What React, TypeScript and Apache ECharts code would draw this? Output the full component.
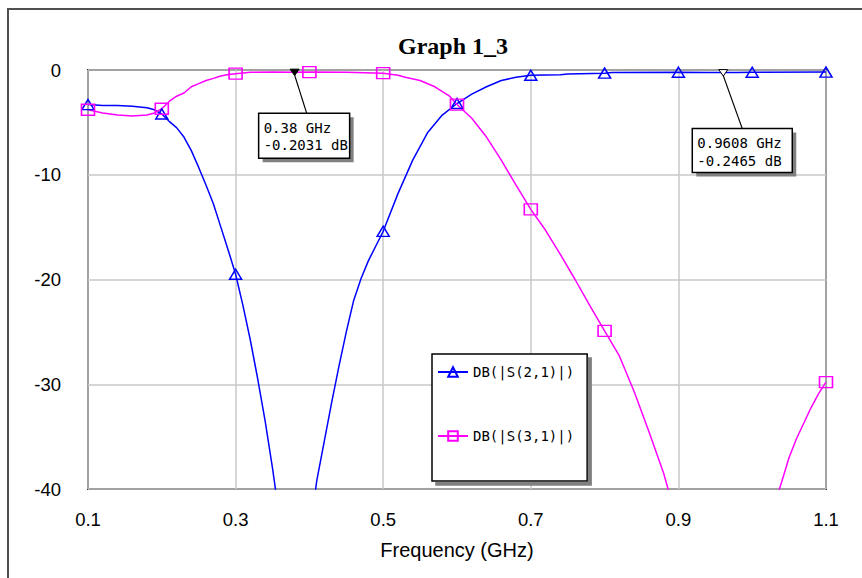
import React, { useEffect, useRef } from "react";
import * as echarts from "echarts";

const chartTitle = "Graph 1_3";
const xAxisName = "Frequency (GHz)";
const seriesNames = ["DB(|S(2,1)|)", "DB(|S(3,1)|)"];
const seriesColors = ["#0000ff", "#ff00ff"];

// DB(|S(2,1)|)
const s21Freq = [
  0.1, 0.12, 0.14, 0.16, 0.18, 0.19, 0.2, 0.21, 0.22, 0.23, 0.24, 0.25, 0.26, 0.27, 0.28, 0.29,
  0.3, 0.31, 0.32, 0.33, 0.34, 0.35, 0.36, 0.37, 0.38, 0.39, 0.4, 0.41, 0.42, 0.43, 0.44, 0.45,
  0.46, 0.47, 0.48, 0.49, 0.5, 0.52, 0.54, 0.56, 0.58, 0.6, 0.62, 0.64, 0.66, 0.68, 0.7, 0.74,
  0.75, 0.8, 0.81, 0.9, 0.94, 0.9608, 0.98, 1.0, 1.1,
];
const s21Db = [
  -3.3, -3.4, -3.4, -3.45, -3.6, -3.8, -4.2, -4.9, -5.5, -6.4, -7.7, -9.3, -11.0, -12.8, -15.0, -17.2,
  -19.5, -22.5, -25.8, -29.5, -33.5, -38.0, -43, -50, -62, -52, -44.5, -39.2, -35.5, -31.8, -28.3, -25.0,
  -22.0, -19.9, -18.2, -16.8, -15.4, -11.8, -8.6, -6.0, -4.3, -3.2, -2.3, -1.6, -1.0, -0.7, -0.5, -0.45,
  -0.38, -0.3, -0.25, -0.22, -0.23, -0.2465, -0.23, -0.22, -0.2,
];

// DB(|S(3,1)|)
const s31Freq = [
  0.1, 0.12, 0.14, 0.16, 0.18, 0.19, 0.2, 0.21, 0.22, 0.23, 0.24, 0.25, 0.26, 0.27, 0.28, 0.29,
  0.3, 0.32, 0.35, 0.38, 0.4, 0.45, 0.5, 0.52, 0.53, 0.55, 0.57, 0.59, 0.6, 0.62, 0.64, 0.66,
  0.68, 0.7, 0.72, 0.74, 0.76, 0.78, 0.8, 0.82, 0.84, 0.86, 0.88, 0.89, 0.92, 0.96, 1.0, 1.03,
  1.04, 1.05, 1.06, 1.07, 1.08, 1.09, 1.1,
];
const s31Db = [
  -3.8, -4.1, -4.3, -4.4, -4.3, -4.1, -3.7, -3.0, -2.5, -2.2, -1.6, -1.3, -1.0, -0.8, -0.57, -0.42,
  -0.35, -0.22, -0.18, -0.2031, -0.2, -0.22, -0.3, -0.5, -0.7, -1.0, -1.6, -2.5, -3.3, -4.6, -6.4, -8.6,
  -11.0, -13.3, -15.3, -17.6, -20.0, -22.5, -24.9, -27.3, -30.7, -34.5, -38.5, -41, -48, -62, -50, -41.5,
  -39.3, -37.0, -35.2, -33.7, -32.2, -30.9, -29.8,
];

// marker annotations
const markerFreq = [0.38, 0.9608];
const markerDb = [-0.2031, -0.2465];
const markerLines = [
  ["0.38 GHz", "-0.2031 dB"],
  ["0.9608 GHz", "-0.2465 dB"],
];
const markerFilled = [true, false];

// annotation box layout (offsets from the marker point)
const boxDx = [-36, -31];
const boxDy = [41, 56];
const boxW = [91, 100];
const boxH = [45, 44];
const leaderDx = [12, 19];

const isMarkerPoint = (f: number) => Math.abs(f * 10 - Math.round(f * 10)) < 1e-6;

const buildData = (freq: number[], db: number[]) =>
  freq.map((f, i) => (isMarkerPoint(f) ? [f, db[i]] : { value: [f, db[i]], symbol: "none" }));

export default function App() {
  const ref = useRef<HTMLDivElement>(null);

  useEffect(() => {
    if (!ref.current) return;
    const chart = echarts.init(ref.current, null, { renderer: "svg" });
    const sans = "'Liberation Sans', Arial, sans-serif";
    const mono = "'DejaVu Sans Mono', monospace";
    chart.setOption({
      animation: false,
      backgroundColor: "#ffffff",
      title: {
        text: chartTitle,
        left: 393,
        top: 29,
        textStyle: {
          fontFamily: "'Liberation Serif', 'Times New Roman', serif",
          fontWeight: "bold",
          fontSize: 24,
          color: "#000",
        },
      },
      grid: {
        left: 88,
        right: 36,
        top: 70,
        bottom: 89,
        show: true,
        borderColor: "#333",
        borderWidth: 2,
        backgroundColor: "transparent",
      },
      legend: {
        orient: "vertical",
        left: 432,
        top: 354,
        itemWidth: 30,
        itemHeight: 12,
        itemGap: 50,
        padding: [11, 13, 38, 5],
        backgroundColor: "#fff",
        borderColor: "#000",
        borderWidth: 1.5,
        shadowColor: "#808080",
        shadowOffsetX: 4,
        shadowOffsetY: 4,
        shadowBlur: 0,
        textStyle: { fontFamily: mono, fontSize: 14, color: "#000" },
        data: seriesNames,
      },
      xAxis: {
        type: "value",
        min: 0.1,
        max: 1.1,
        interval: 0.2,
        name: xAxisName,
        nameLocation: "middle",
        nameGap: 51,
        nameTextStyle: { fontFamily: sans, fontSize: 20, color: "#000" },
        axisLine: { show: false },
        axisTick: { show: false },
        axisLabel: {
          fontFamily: sans,
          fontSize: 18.5,
          color: "#000",
          margin: 21,
          formatter: (v: number) => v.toFixed(1),
        },
        splitLine: { show: true, lineStyle: { color: "#c8c8c8", width: 1.5 } },
      },
      yAxis: {
        type: "value",
        min: -40,
        max: 0,
        interval: 10,
        axisLine: { show: false },
        axisTick: { show: false },
        axisLabel: { fontFamily: sans, fontSize: 18.5, color: "#000", margin: 27 },
        splitLine: { show: true, lineStyle: { color: "#c8c8c8", width: 1.5 } },
      },
      series: [
        {
          type: "line",
          name: seriesNames[0],
          data: buildData(s21Freq, s21Db),
          symbol: "triangle",
          symbolSize: [12, 10],
          clip: true,
          lineStyle: { color: seriesColors[0], width: 1.5 },
          itemStyle: { color: "rgba(255,255,255,0)", borderColor: seriesColors[0], borderWidth: 1.5 },
          emphasis: { disabled: true },
        },
        {
          type: "line",
          name: seriesNames[1],
          data: buildData(s31Freq, s31Db),
          symbol: "rect",
          symbolSize: [13, 11],
          clip: true,
          lineStyle: { color: seriesColors[1], width: 1.5 },
          itemStyle: { color: "rgba(255,255,255,0)", borderColor: seriesColors[1], borderWidth: 1.5 },
          emphasis: { disabled: true },
        },
      ],
    });

    const graphics: any[] = [
      {
        type: "rect",
        shape: { x: 8, y: 9, width: 900, height: 600 },
        style: { fill: "none", stroke: "#505050", lineWidth: 2 },
        z: 0,
        silent: true,
      },
    ];
    markerFreq.forEach((f, i) => {
      const p = chart.convertToPixel({ gridIndex: 0 }, [f, markerDb[i]]) as number[];
      const bx = p[0] + boxDx[i];
      const by = p[1] + boxDy[i];
      graphics.push(
        {
          type: "line",
          shape: { x1: p[0], y1: p[1] + 3, x2: p[0] + leaderDx[i], y2: by },
          style: { stroke: "#000", lineWidth: 1.2 },
          z: 100,
        },
        {
          type: "polygon",
          shape: {
            points: [
              [p[0] - 4.5, p[1] - 3],
              [p[0] + 4.5, p[1] - 3],
              [p[0], p[1] + 3.5],
            ],
          },
          style: { fill: markerFilled[i] ? "#000" : "#fff", stroke: "#000", lineWidth: 1 },
          z: 101,
        },
        {
          type: "rect",
          shape: { x: bx + 4, y: by + 4, width: boxW[i], height: boxH[i] },
          style: { fill: "#808080" },
          z: 100,
        },
        {
          type: "rect",
          shape: { x: bx, y: by, width: boxW[i], height: boxH[i] },
          style: { fill: "#fff", stroke: "#000", lineWidth: 1.5 },
          z: 101,
        },
        {
          type: "text",
          x: bx + 5,
          y: by + 6,
          style: {
            text: markerLines[i].join("\n"),
            fontFamily: mono,
            fontSize: 14,
            lineHeight: 17.5,
            fill: "#000",
            verticalAlign: "top",
            align: "left",
          },
          z: 102,
        }
      );
    });
    chart.setOption({ graphic: graphics });

    return () => chart.dispose();
  }, []);

  return (
    <div
      ref={ref}
      style={{ position: "absolute", left: 0, top: 0, width: 862, height: 578, background: "#fff" }}
    />
  );
}
